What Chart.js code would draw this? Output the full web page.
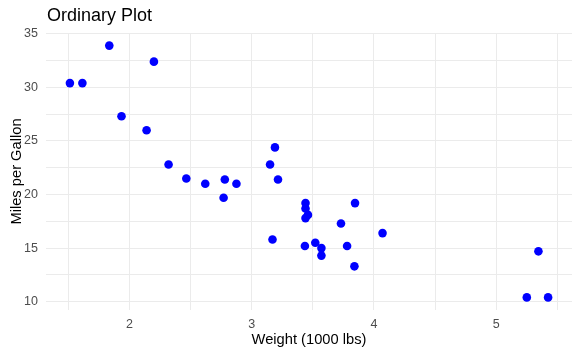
<!DOCTYPE html>
<html><head><meta charset="utf-8">
<script src="https://cdn.jsdelivr.net/npm/chart.js@4"></script>
<style>html,body{margin:0;padding:0;background:#fff}#wrap{width:581px;height:355px}</style>
</head><body><div id="wrap"><canvas id="c"></canvas></div>
<script>
const weights = [2.620,2.875,2.320,3.215,3.440,3.460,3.570,3.190,3.150,3.440,3.440,4.070,3.730,3.780,5.250,5.424,5.345,2.200,1.615,1.835,2.465,3.520,3.435,3.840,3.845,1.935,2.140,1.513,3.170,2.770,3.570,2.780];
const mpg = [21.0,21.0,22.8,21.4,18.7,18.1,14.3,24.4,22.8,19.2,17.8,16.4,17.3,15.2,10.4,10.4,14.7,32.4,30.4,33.9,21.5,15.5,15.2,13.3,19.2,27.3,26.0,30.4,15.8,19.7,15.0,21.4];
const xTicks = [1.5,2,2.5,3,3.5,4,4.5,5,5.5];
const yTicks = [10,12.5,15,17.5,20,22.5,25,27.5,30,32.5,35];
const chartTitle = "Ordinary Plot";
const xTitle = "Weight (1000 lbs)";
const yTitle = "Miles per Gallon";

const points = weights.map((w,i)=>({x:w,y:mpg[i]}));
const FONT = "'Liberation Sans', Arial, sans-serif";

const titlePlugin = {
  id:'ggtitle',
  afterDraw(chart){
    const ctx = chart.ctx;
    ctx.save();
    ctx.font = "18px " + FONT;
    ctx.fillStyle = "#000";
    ctx.textBaseline = "alphabetic";
    ctx.fillText(chartTitle, chart.chartArea.left+1, 21);
    ctx.restore();
  }
};

new Chart(document.getElementById('c'), {
  type:'scatter',
  data:{datasets:[{data:points, backgroundColor:'#0000ff', borderWidth:0, pointRadius:4.3, pointHoverRadius:4.3}]},
  options:{
    responsive:true, maintainAspectRatio:false, animation:false,
    layout:{padding:{left:0,right:9,top:33,bottom:0}},
    plugins:{legend:{display:false}, tooltip:{enabled:false}},
    scales:{
      x:{type:'linear', min:1.3174, max:5.6196,
        afterBuildTicks(s){ s.ticks = xTicks.map(v=>({value:v})); },
        afterFit(s){ s.height = 45; },
        grid:{color:'#ebebeb', lineWidth:1, drawTicks:false},
        border:{display:false},
        ticks:{padding:7, color:'#4d4d4d', font:{family:FONT,size:12.5}, maxRotation:0, autoSkip:false,
          callback:(v)=> Number.isInteger(v) ? String(v) : ''},
        title:{display:true, text:xTitle, color:'#000', font:{family:FONT,size:14.7}, padding:{top:0,bottom:6}}
      },
      y:{type:'linear', min:9.225, max:35.075,
        afterBuildTicks(s){ s.ticks = yTicks.map(v=>({value:v})); },
        afterFit(s){ s.width = 46; },
        grid:{color:'#ebebeb', lineWidth:1, drawTicks:false},
        border:{display:false},
        ticks:{padding:8, color:'#4d4d4d', font:{family:FONT,size:12.5}, autoSkip:false,
          callback:(v)=> Number.isInteger(v) && v%5===0 ? String(v) : ''},
        title:{display:true, text:yTitle, color:'#000', font:{family:FONT,size:14.7}, padding:{top:8,bottom:0}}
      }
    }
  },
  plugins:[titlePlugin]
});
</script></body></html>
